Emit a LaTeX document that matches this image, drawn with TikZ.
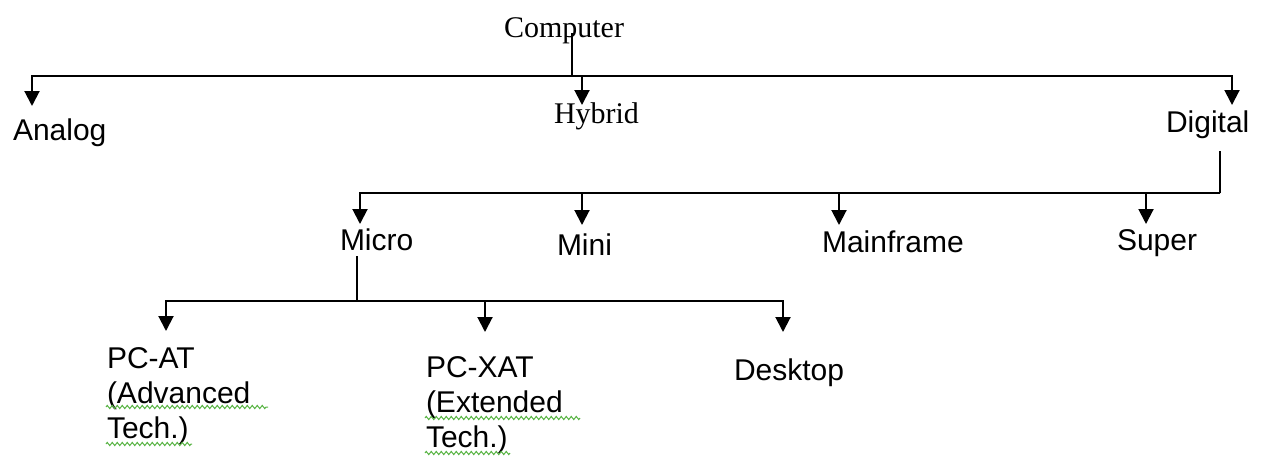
\documentclass[tikz,border=0pt]{standalone}
\usepackage{fontspec}
\setmainfont{Liberation Sans}
\newfontfamily\serifface{Liberation Serif}
\usetikzlibrary{arrows.meta, calc, decorations.pathmorphing}
\definecolor{spellgreen}{RGB}{90,180,70}

\begin{document}
\begin{tikzpicture} [x = 1pt, y = -1pt, line width = 2pt,
  arr/.style = {-{Triangle[width = 15pt, length = 15pt]}},
  lbl/.style = {anchor = base west, inner sep = 0pt, align = left, font = \fontsize{30}{35}\selectfont},
  serif/.style = {lbl, font = \serifface\fontsize{30}{35}\selectfont},
  squig/.style = {spellgreen, line width = 1pt, decorate, decoration = {zigzag, amplitude = 1.6pt, segment length = 5pt}}]

\useasboundingbox (0,0) rectangle (1265,458);

% first level
\node [serif] (comp) at (503,37) {Computer};
\node [lbl] (analog) at (12,140) {Analog};
\node [serif] (hybrid) at (553,123) {Hybrid};
\node [lbl] (digital) at (1165,132) {Digital};

\coordinate (bus1) at (572,76);
\coordinate (tanalog) at (32,106);
\coordinate (thybrid) at (582,105);
\coordinate (tdigital) at (1232,105);

\draw ($(comp.base -| bus1)+(0,-4)$) -- (bus1);
\draw [arr] (bus1) -| (tanalog);
\draw [arr] (bus1) -| (thybrid);
\draw [arr] (bus1) -| (tdigital);

% second level
\node [lbl] (micro) at (339,250) {Micro};
\node [lbl] (mini) at (556,255) {Mini};
\node [lbl] (mainframe) at (821,252) {Mainframe};
\node [lbl] (super) at (1116,250) {Super};

\coordinate (bus2) at (1220,193);
\coordinate (tmicro) at (360,224);
\coordinate (tmini) at (582,225);
\coordinate (tmainframe) at (839,225);
\coordinate (tsuper) at (1146,224);

\draw ($(digital.south -| bus2)+(0,12)$) -- (bus2);
\draw [arr] (bus2) -| (tmicro);
\draw [arr] (bus2) -| (tmini);
\draw [arr] (bus2) -| (tmainframe);
\draw [arr] (bus2) -| (tsuper);

% third level (base = last line)
\node [lbl] (pcat) at (106,438) {PC-AT\\(Advanced\\Tech.)};
\node [lbl] (pcxat) at (425,447) {PC-XAT\\(Extended\\Tech.)};
\node [lbl] (desktop) at (733,380) {Desktop};

\coordinate (bus3) at (357,301);
\coordinate (tpcat) at (166,331);
\coordinate (tpcxat) at (485,332);
\coordinate (tdesktop) at (783,332);

\draw ($(micro.base -| bus3)+(0,6)$) -- (bus3);
\draw [arr] (bus3) -| (tpcat);
\draw [arr] (bus3) -| (tpcxat);
\draw [arr] (bus3) -| (tdesktop);

% spelling marks
\draw [squig] ($(pcat.base west)+(0,-31)$) -- ++(162,0);
\draw [squig] ($(pcat.base west)+(0,6)$) -- ++(86,0);
\draw [squig] ($(pcxat.base west)+(0,-29)$) -- ++(155,0);
\draw [squig] ($(pcxat.base west)+(0,6)$) -- ++(85,0);

\end{tikzpicture}
\end{document}
